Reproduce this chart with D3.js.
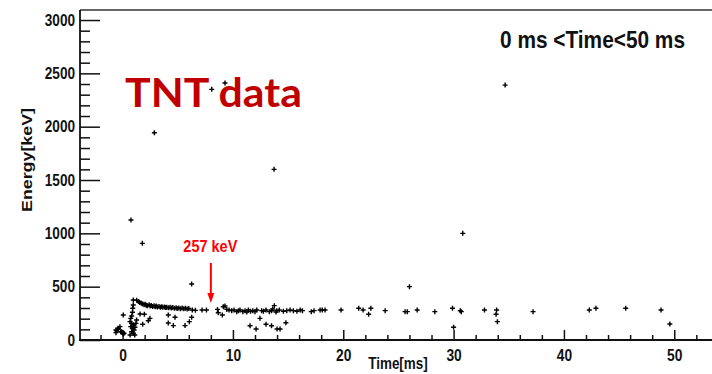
<!DOCTYPE html>
<html>
<head>
<meta charset="utf-8">
<script src="https://cdn.jsdelivr.net/npm/d3@7"></script>
<style>
  body { margin: 0; background: #fff; }
  svg { display: block; }
</style>
</head>
<body>
<svg id="chart" width="712" height="374"></svg>
<script>
// Event list: arrival time (ms) and deposited energy (keV)
const timeMs = [
  // sparse high-energy events
  0.76, 1.79, 2.88, 6.26, 8.08, 9.28, 13.73, 26.0, 30.83, 34.67,
  // prompt cluster around t = 0
  -0.6, -0.54, -0.39, -0.24, -0.17, -0.08, -0.6, 0.0, 0.06, 0.13, -0.45, 0.06,
  // column near 1 ms
  0.97, 0.97, 0.92, 0.82, 0.74, 0.67, 0.82, 0.97, 0.74, 0.88, 1.04, 0.82, 0.97, 1.12, 1.21, 1.27, 0.68, 1.1, 0.9, 1.0,
  1.58, 1.97, 1.82, 2.48, 2.33,
  // 257 keV line, early part
  1.28, 1.45, 1.55, 1.7, 1.82, 1.95, 2.05, 2.15, 2.25, 2.4, 2.5, 2.6, 2.72, 2.85, 2.95, 3.05, 3.15, 3.3, 3.42, 3.55,
  3.65, 3.8, 3.9, 4.0, 4.15, 4.3, 4.42, 4.55, 4.7, 4.85, 4.95, 5.1, 5.25, 5.4, 5.55, 5.7, 5.85, 6.0,
  6.32, 6.6, 7.2, 7.6, 8.6, 8.67, 9.04, 9.13, 9.28, 9.44, 9.65,
  // low-energy events 4-6 ms
  4.14, 4.14, 4.75, 4.6, 5.66, 6.05, 6.26,
  // 257 keV line, 10-16 ms
  9.89, 10.1, 10.35, 10.5, 10.64, 10.9, 11.1, 11.26, 11.4, 11.6, 11.8, 12.0, 12.16, 12.6, 12.76, 13.0, 13.3, 13.5,
  13.6, 13.75, 13.9, 13.97, 14.2, 14.57, 14.88, 15.18, 15.48, 15.8,
  // low-energy events 11-15 ms
  11.55, 12.1, 12.45, 13.0, 13.5, 14.0, 14.27, 14.8,
  // late events
  16.1, 16.3, 17.1, 17.35, 17.9, 18.1, 18.35, 19.8, 21.4, 21.8, 22.3, 22.5, 23.8, 25.6, 25.8, 26.7, 28.3, 29.9,
  30.0, 30.6, 30.7, 32.8, 33.9, 33.85, 33.97, 37.2, 42.3, 42.9, 45.6, 48.8, 49.6
];
const energyKeV = [
  1125, 906, 1943, 525, 2350, 2410, 1600, 500, 1000, 2390,
  94, 87, 110, 125, 78, 78, 69, 68, 56, 63, 100, 234,
  375, 328, 297, 225, 203, 172, 156, 141, 125, 110, 94, 78, 63, 119, 156, 188, 47, 47, 260, 140,
  244, 241, 147, 203, 181,
  372, 360, 352, 345, 338, 330, 335, 326, 322, 330, 318, 324, 315, 320, 312, 318, 310, 314, 306, 311,
  306, 310, 305, 308, 302, 306, 300, 304, 298, 302, 296, 300, 294, 299, 292, 297, 290, 295,
  281, 278, 281, 281, 287, 256, 234, 312, 319, 287, 281,
  234, 160, 213, 135, 135, 172, 213,
  275, 281, 266, 275, 281, 266, 275, 262, 281, 270, 275, 266, 281, 275, 270, 281, 266, 275,
  290, 322, 262, 275, 281, 270, 275, 281, 275, 270,
  134, 103, 203, 147, 134, 103, 103, 162,
  281, 275, 266, 275, 281, 281, 281, 281, 297, 281, 241, 297, 275, 266, 266, 281, 266, 297,
  119, 275, 266, 281, 281, 241, 172, 266, 281, 297, 297, 281, 150
];

const xMajorTicks = [0, 10, 20, 30, 40, 50];
const xMinorTicks = [-2, 2, 4, 6, 8, 12, 14, 16, 18, 22, 24, 26, 28, 32, 34, 36, 38, 42, 44, 46, 48, 52];
const yMajorTicks = [0, 500, 1000, 1500, 2000, 2500, 3000];
const yMinorTicks = d3.range(100, 3100, 100).filter(v => v % 500 !== 0);

const lineEnergy = 257;          // annotated gamma line
const arrowTime = 8.0;

const svg = d3.select("#chart");
const font = "'Liberation Sans', Arial, Helvetica, sans-serif";

const x = d3.scaleLinear().domain([-3.86, 53.42]).range([80, 712]);
const y = d3.scaleLinear().domain([0, 3094]).range([340, 10]);

// squeeze text horizontally to a narrow face
function condense(sel, f) {
  sel.each(function () {
    const w = this.getComputedTextLength();
    d3.select(this).attr("textLength", w * f).attr("lengthAdjust", "spacingAndGlyphs");
  });
}

// frame lines
svg.append("line").attr("x1", 80).attr("x2", 712).attr("y1", 10).attr("y2", 10)
  .attr("stroke", "#333").attr("stroke-width", 1.3);

// Y axis
const gy = svg.append("g").attr("transform", "translate(80,0)");
gy.call(d3.axisLeft(y).tickValues(yMajorTicks).tickSizeInner(-20).tickSizeOuter(0).tickPadding(5).tickFormat(d3.format("d")));
gy.append("g").call(d3.axisLeft(y).tickValues(yMinorTicks).tickSizeInner(-10).tickSizeOuter(0).tickFormat(""));
gy.selectAll(".domain").remove();
gy.selectAll("line").attr("stroke", "#111").attr("stroke-width", 1.5);
gy.selectAll("text").attr("fill", "#111").style("font-family", font).style("font-weight", "bold").style("font-size", "16px");
condense(gy.selectAll("text"), 0.85);
svg.append("line").attr("x1", 80).attr("x2", 80).attr("y1", 10).attr("y2", 341)
  .attr("stroke", "#111").attr("stroke-width", 1.8);

// X axis
const gx = svg.append("g").attr("transform", "translate(0,340)");
gx.call(d3.axisBottom(x).tickValues(xMajorTicks).tickSizeInner(-10).tickSizeOuter(0).tickPadding(10).tickFormat(d3.format("d")));
gx.append("g").call(d3.axisBottom(x).tickValues(xMinorTicks).tickSizeInner(-5).tickSizeOuter(0).tickFormat(""));
gx.selectAll(".domain").remove();
gx.selectAll("line").attr("stroke", "#111").attr("stroke-width", 1.5);
gx.selectAll("text").attr("fill", "#111").style("font-family", font).style("font-weight", "bold").style("font-size", "16px");
condense(gx.selectAll("text"), 0.86);
svg.append("line").attr("x1", 79).attr("x2", 712).attr("y1", 340).attr("y2", 340)
  .attr("stroke", "#111").attr("stroke-width", 1.8);

// axis titles
const xt = svg.append("text").attr("x", 398).attr("y", 369).attr("text-anchor", "middle")
  .attr("fill", "#111").style("font-family", font).style("font-weight", "bold").style("font-size", "16px")
  .text("Time[ms]");
condense(xt, 0.84);
const yt = svg.append("text").attr("transform", "translate(32,160) rotate(-90)").attr("text-anchor", "middle")
  .attr("fill", "#111").style("font-family", font).style("font-weight", "bold").style("font-size", "15px")
  .text("Energy[keV]");
yt.attr("textLength", 104).attr("lengthAdjust", "spacingAndGlyphs");

// events
const events = timeMs.map((t, i) => ({ t, e: energyKeV[i] }));
svg.append("g").selectAll("path").data(events).join("path")
  .attr("transform", d => `translate(${x(d.t)},${y(d.e)})`)
  .attr("d", "M-2.5,0H2.5M0,-2.5V2.5")
  .attr("stroke", "#000").attr("stroke-width", 1.4).attr("fill", "none");

// labels
const tnt = svg.append("text").attr("x", 125).attr("y", 107)
  .attr("fill", "#C00000").style("font-family", "Lato, 'Open Sans', sans-serif").style("font-weight", "bold").style("font-size", "41px")
  .text("TNT data");
tnt.attr("textLength", 177).attr("lengthAdjust", "spacingAndGlyphs");

const rng = svg.append("text").attr("x", 500).attr("y", 48)
  .attr("fill", "#111").style("font-family", font).style("font-weight", "bold").style("font-size", "24px")
  .text("0 ms <Time<50 ms");
rng.attr("textLength", 185).attr("lengthAdjust", "spacingAndGlyphs");

// 257 keV annotation arrow
const ax = x(arrowTime);
svg.append("text").attr("x", ax - 0.5).attr("y", 252).attr("text-anchor", "middle")
  .attr("fill", "#FF0000").style("font-family", font).style("font-weight", "bold").style("font-size", "17px")
  .attr("textLength", 54).attr("lengthAdjust", "spacingAndGlyphs")
  .text(`${lineEnergy} keV`);
svg.append("line").attr("x1", ax).attr("x2", ax).attr("y1", 263).attr("y2", 296)
  .attr("stroke", "#FF0000").attr("stroke-width", 2);
svg.append("path").attr("d", `M${ax - 3.5},293L${ax + 3.5},293L${ax},303Z`).attr("fill", "#FF0000");
</script>
</body>
</html>
